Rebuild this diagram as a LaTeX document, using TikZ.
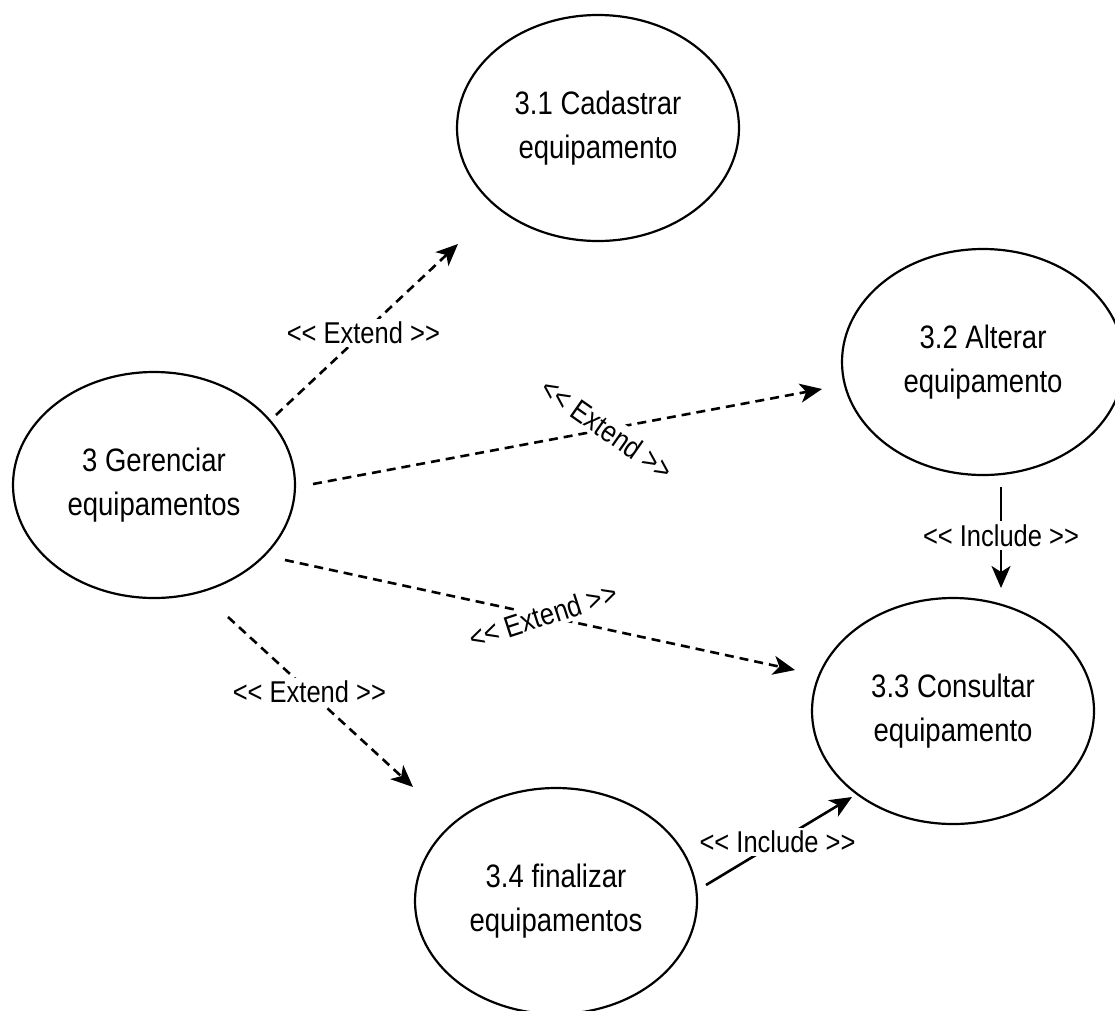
\documentclass[tikz,border=0pt]{standalone}
\usepackage{fontspec}
\setmainfont{Liberation Sans}
\usetikzlibrary{shapes.geometric,arrows.meta}

% text in this diagram is set slightly taller than wide
\newcommand{\vstretch}[1]{\scalebox{1}[1.18]{#1}}
\newcommand{\twolines}[2]{\vstretch{\begin{tabular}{@{}c@{}}#1\\#2\end{tabular}}}
% stereotype labels; the empty groups keep << and >> from becoming guillemets
\newcommand{\stereo}[1]{\vstretch{<{}< #1 >{}>}}

\begin{document}
\begin{tikzpicture}[x=1pt,y=-1pt,
  usecase/.style={ellipse, draw, line width=2.2pt, minimum width=282pt,
    minimum height=226pt, inner sep=0pt,
    font=\fontsize{27.5}{37}\selectfont},
  tip/.style={-{Stealth[length=22pt,width=19pt,inset=6pt]}},
  extendline/.style={tip, line width=2.6pt, dash pattern=on 9pt off 6pt},
  includeline/.style={tip, line width=2.6pt},
  lbl/.style={fill=white, inner sep=3pt,
    font=\fontsize{25.5}{30}\selectfont}]

\useasboundingbox (0,0) rectangle (1115,1010);

% use cases
\node[usecase] (cad) at (598,128) {\twolines{3.1 Cadastrar}{equipamento}};
\node[usecase] (alt) at (983,362) {\twolines{3.2 Alterar}{equipamento}};
\node[usecase] (ger) at (154,485) {\twolines{3 Gerenciar}{equipamentos}};
\node[usecase] (con) at (953,711) {\twolines{3.3 Consultar}{equipamento}};
\node[usecase] (fin) at (556,901) {\twolines{3.4 finalizar}{equipamentos}};

% connector end points
\coordinate (gerA) at (276,415);
\coordinate (cadIn) at (458,244);
\coordinate (gerB) at (313,484);
\coordinate (altIn) at (822,389);
\coordinate (gerC) at (285,560);
\coordinate (conIn) at (795,670);
\coordinate (gerD) at (228,617);
\coordinate (finIn) at (413,787);
\coordinate (altOut) at (1001,487);
\coordinate (conTop) at (1001,588);
\coordinate (finOut) at (706,885);
\coordinate (conLow) at (852,797);

% extend relations
\draw[extendline] (gerA) -- (cadIn)
  node[lbl, pos=0.48] {\stereo{Extend}};
\draw[extendline] (gerB) -- (altIn)
  node[lbl, pos=0.578, rotate=-35] {\stereo{Extend}};
\draw[extendline] (gerC) -- (conIn)
  node[lbl, pos=0.506, rotate=18] {\stereo{Extend}};
\draw[extendline] (gerD) -- (finIn)
  node[lbl, pos=0.44] {\stereo{Extend}};

% include relations
\draw[includeline] (altOut) -- (conTop)
  node[lbl, pos=0.48] {\stereo{Include}};
\draw[includeline] (finOut) -- (conLow)
  node[lbl, pos=0.49] {\stereo{Include}};

\end{tikzpicture}
\end{document}
